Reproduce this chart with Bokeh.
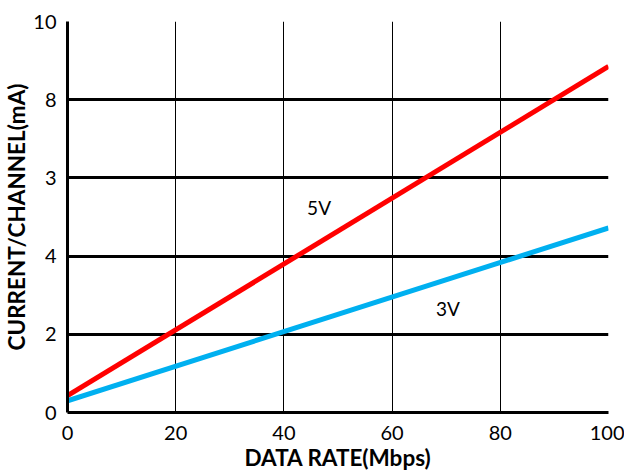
from bokeh.plotting import figure
from bokeh.models import Range1d, FixedTicker, Label
from bokeh.embed import file_html
from bokeh.resources import INLINE

rate = [0, 100]
i_5v = [0.43, 8.85]
i_3v = [0.30, 4.72]
x_ticks = [0, 20, 40, 60, 80, 100]
y_ticks = [0, 2, 4, 6, 8, 10]
y_tick_labels = ["0", "2", "4", "3", "8", "10"]

FONT = "Lato"

p = figure(frame_width=541, frame_height=391, output_backend="svg", toolbar_location=None,
           x_range=Range1d(0, 100), y_range=Range1d(0, 10),
           min_border_left=67, min_border_top=21, min_border_right=16, min_border_bottom=56)
p.outline_line_color = None
p.background_fill_color = "white"

p.line(rate, i_5v, line_color="#FF0000", line_width=5)
p.line(rate, i_3v, line_color="#00B0F0", line_width=5)

p.add_layout(Label(x=46.5, y=5.25, text="5V", text_font=FONT, text_font_size="19px",
                   text_color="black", text_align="center", text_baseline="middle"))
p.add_layout(Label(x=70.3, y=2.65, text="3V", text_font=FONT, text_font_size="19px",
                   text_color="black", text_align="center", text_baseline="middle"))

p.xaxis.ticker = FixedTicker(ticks=x_ticks)
p.yaxis.ticker = FixedTicker(ticks=y_ticks)
p.yaxis.major_label_overrides = {t: l for t, l in zip(y_ticks, y_tick_labels)}

for ax in (p.xaxis, p.yaxis):
    ax.axis_line_width = 3
    ax.axis_line_color = "black"
    ax.major_tick_out = 0
    ax.major_tick_in = 0
    ax.minor_tick_out = 0
    ax.minor_tick_in = 0
    ax.major_label_text_font = FONT
    ax.major_label_text_font_size = "20px"
    ax.major_label_text_color = "black"
    ax.axis_label_text_font = FONT
    ax.axis_label_text_font_size = "22.5px"
    ax.axis_label_text_font_style = "bold"
    ax.axis_label_text_color = "black"

p.xaxis.axis_label = "DATA RATE(Mbps)"
p.yaxis.axis_label = "CURRENT/CHANNEL(mA)"
p.xaxis.major_label_standoff = 13
p.yaxis.major_label_standoff = 11
p.xaxis.axis_label_standoff = 1
p.yaxis.axis_label_standoff = 0

p.xgrid.grid_line_color = "black"
p.xgrid.grid_line_width = 1
p.ygrid.grid_line_color = "black"
p.ygrid.grid_line_width = 3

open("out.html", "w").write(file_html(p, INLINE))
